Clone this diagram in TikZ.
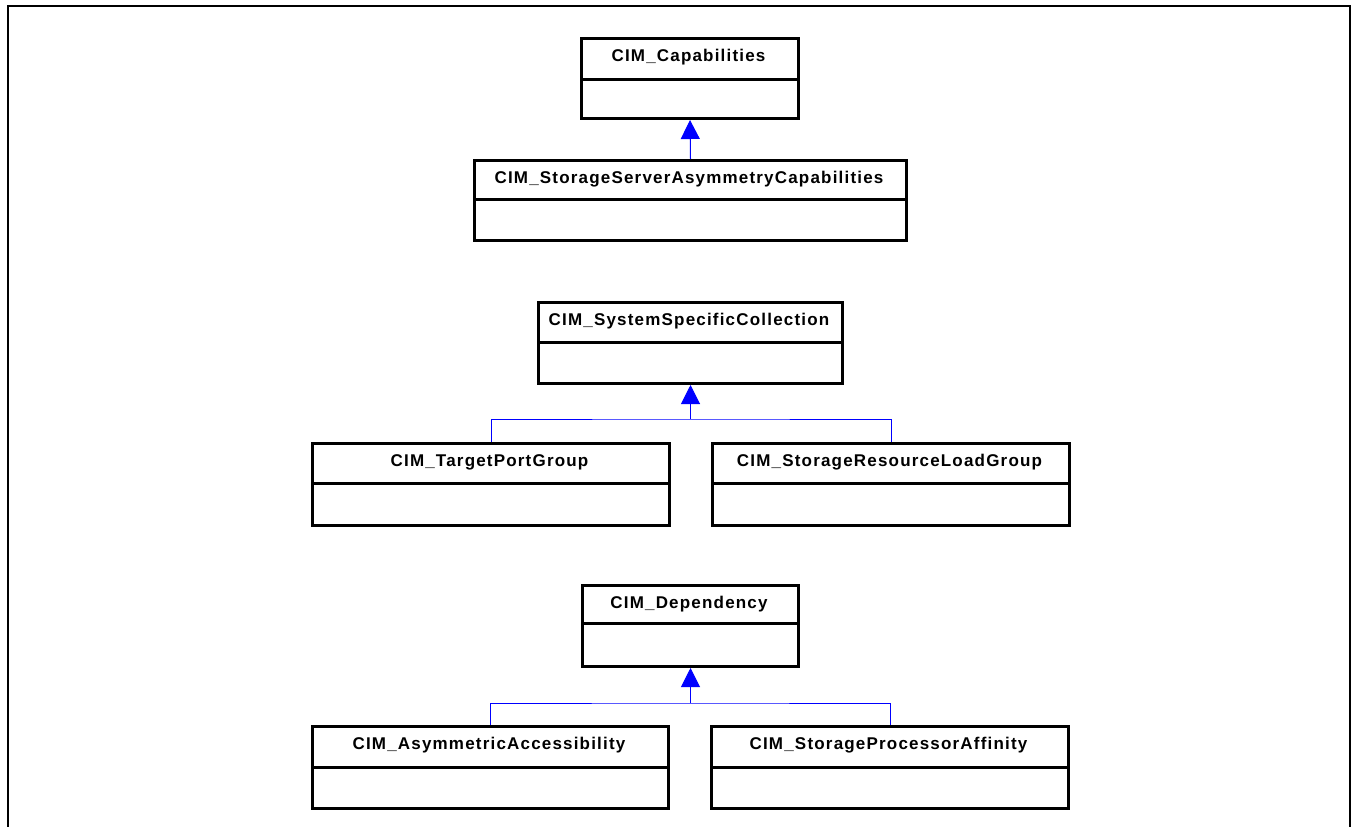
\documentclass[tikz,border=0pt]{standalone}
\usepackage{fontspec}
\setmainfont{Liberation Sans}
\newfontfamily\clsfont{Liberation Sans}[LetterSpace=7]
\usetikzlibrary{arrows.meta}
\tikzset{
  cls/.style={draw=black, line width=3pt, rectangle, anchor=north west, inner sep=0pt},
  lbl/.style={font=\clsfont\bfseries\fontsize{17}{20}\selectfont, anchor=base, inner sep=0pt},
  divline/.style={draw=black, line width=3pt},
  gen/.style={draw=blue, line width=1pt, -{Triangle[length=19pt,width=19pt,fill=blue]}},
  conn/.style={draw=blue, line width=1pt},
  frameline/.style={draw=black, line width=2pt}
}
\newcommand\umlcls[7]{%
  \node[cls, minimum width={(#4-#2)*1pt}, minimum height={(#5-#3)*1pt}] (#1) at (#2,#3) {};
  \draw[divline] (#1.west |- 0,#6) -- (#1.east |- 0,#6);
  \node[lbl] (#1-t) at ({(#2+#4)/2},{#3+24}) {#7};
}
\begin{document}
\begin{tikzpicture}[x=1pt,y=-1pt]
  \useasboundingbox (0,0) rectangle (1353,827);
  \draw[frameline] (8,835) -- (8,6) -- (1350,6) -- (1350,835);

  \umlcls{cap}{580}{37}{797}{117}{79}{CIM\_Capabilities}
  \umlcls{ssac}{473}{159}{905}{239}{199}{CIM\_StorageServerAsymmetryCapabilities}

  \umlcls{ssc}{537}{301}{841}{382}{342}{CIM\_SystemSpecificCollection}
  \umlcls{tpg}{311}{442}{668}{524}{483}{CIM\_TargetPortGroup}
  \umlcls{srlg}{711}{442}{1068}{524}{483}{CIM\_StorageResourceLoadGroup}

  \umlcls{dep}{581}{584}{797}{665}{623}{CIM\_Dependency}
  \umlcls{aa}{311}{725}{667}{807}{767}{CIM\_AsymmetricAccessibility}
  \umlcls{spa}{710}{725}{1067}{807}{767}{CIM\_StorageProcessorAffinity}

  \draw[gen] (ssac.north) -- (cap.south);

  \coordinate (j1) at (ssc.south |- 0,419);
  \draw[conn] (tpg.north) |- (j1) -| (srlg.north);
  \draw[gen] (j1) -- (ssc.south);

  \coordinate (j2) at (dep.south |- 0,703);
  \draw[conn] (aa.north) |- (j2) -| (spa.north);
  \draw[gen] (j2) -- (dep.south);
\end{tikzpicture}
\end{document}
